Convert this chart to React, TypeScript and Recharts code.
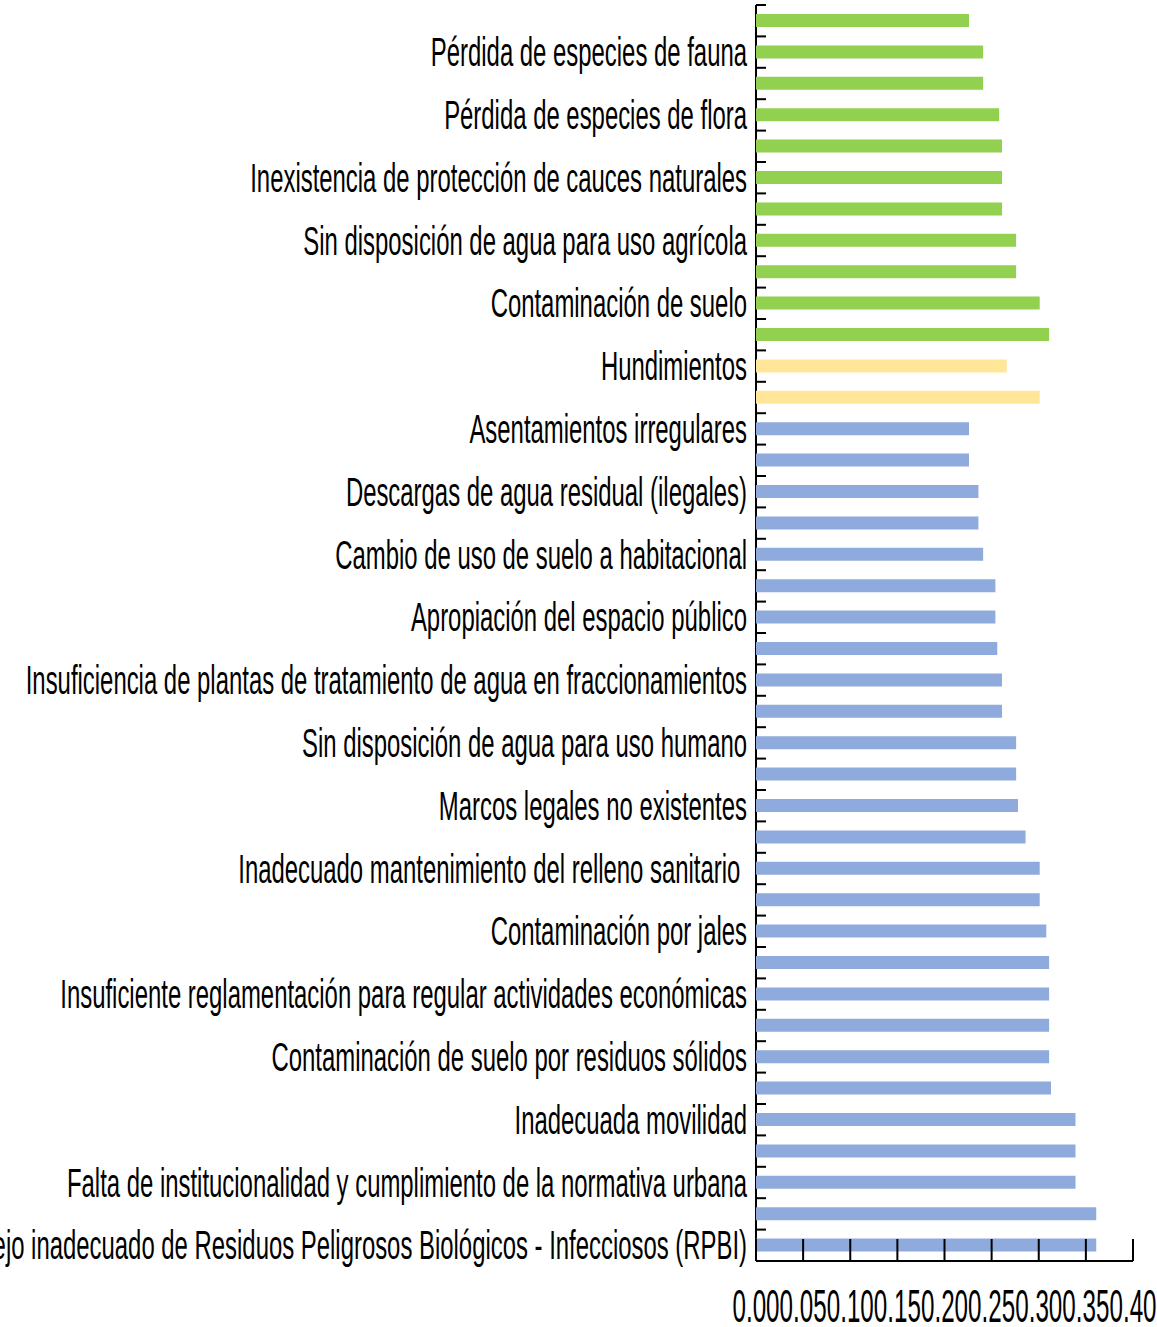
import React from "react";
import { BarChart, Bar, XAxis, YAxis, Cell } from "recharts";

// 40 bars, top to bottom; only every second one carries a visible label
const categories = [
  "", "Pérdida de especies de fauna",
  "", "Pérdida de especies de flora",
  "", "Inexistencia de protección de cauces naturales",
  "", "Sin disposición de agua para uso agrícola",
  "", "Contaminación de suelo",
  "", "Hundimientos",
  "", "Asentamientos irregulares",
  "", "Descargas de agua residual (ilegales)",
  "", "Cambio de uso de suelo a habitacional",
  "", "Apropiación del espacio público",
  "", "Insuficiencia de plantas de tratamiento de agua en fraccionamientos",
  "", "Sin disposición de agua para uso humano",
  "", "Marcos legales no existentes",
  "", "Inadecuado mantenimiento del relleno sanitario ",
  "", "Contaminación por jales",
  "", "Insuficiente reglamentación para regular actividades económicas",
  "", "Contaminación de suelo por residuos sólidos",
  "", "Inadecuada movilidad",
  "", "Falta de institucionalidad y cumplimiento de la normativa urbana",
  "", "Manejo inadecuado de Residuos Peligrosos Biológicos - Infecciosos (RPBI)",
];

const values = [
  0.226, 0.241, 0.241, 0.258, 0.261, 0.261, 0.261, 0.276, 0.276, 0.301,
  0.311, 0.266, 0.301, 0.226, 0.226, 0.236, 0.236, 0.241, 0.254, 0.254,
  0.256, 0.261, 0.261, 0.276, 0.276, 0.278, 0.286, 0.301, 0.301, 0.308,
  0.311, 0.311, 0.311, 0.311, 0.313, 0.339, 0.339, 0.339, 0.361, 0.361,
];

// 0 = ambiental (green), 1 = riesgo (yellow), 2 = urbano (blue)
const groups = [
  0, 0, 0, 0, 0, 0, 0, 0, 0, 0,
  0, 1, 1, 2, 2, 2, 2, 2, 2, 2,
  2, 2, 2, 2, 2, 2, 2, 2, 2, 2,
  2, 2, 2, 2, 2, 2, 2, 2, 2, 2,
];

const xTicks = [0, 0.05, 0.1, 0.15, 0.2, 0.25, 0.3, 0.35, 0.4];

const GROUP_COLORS = ["#92D050", "#FFE699", "#8FAADC"];
const FONT = '"Liberation Sans", Arial, sans-serif';

const data = categories.map((name, i) => ({
  key: `c${i}`,
  name,
  value: values[i],
  group: groups[i],
}));

const labelByKey: Record<string, string> = {};
data.forEach((d) => {
  labelByKey[d.key] = d.name;
});

const YTick = (props: any) => {
  const { x, y, payload } = props;
  const label = labelByKey[payload.value] || "";
  const half = payload.offset ?? 15.7;
  return (
    <g>
      <line x1={x} x2={x + 10} y1={y - half} y2={y - half} stroke="#000" strokeWidth={2} />
      {label && (
        <text
          transform={`translate(${x - 9},${y + 14}) scale(0.59,1)`}
          textAnchor="end"
          fontSize={40.5}
          fontFamily={FONT}
          fill="#000"
          style={{ whiteSpace: "pre" }}
        >
          {label}
        </text>
      )}
    </g>
  );
};

const XTick = (props: any) => {
  const { x, y, payload } = props;
  return (
    <g>
      <line x1={x} x2={x} y1={y} y2={y - 22} stroke="#000" strokeWidth={2} />
      <text
        transform={`translate(${x},${y + 61}) scale(0.52,1)`}
        textAnchor="middle"
        fontSize={46.5}
        fontFamily={FONT}
        fill="#000"
      >
        {Number(payload.value).toFixed(2)}
      </text>
    </g>
  );
};

export default function App() {
  return (
    <div style={{ position: "absolute", left: 0, top: 0, background: "#fff" }}>
      <BarChart
        width={1157}
        height={1327}
        data={data}
        layout="vertical"
        margin={{ top: 5, right: 24, bottom: 0, left: 0 }}
      >
        <XAxis
          type="number"
          domain={[0, 0.4]}
          ticks={xTicks}
          interval={0}
          height={66}
          tickLine={false}
          tickSize={0}
          tickMargin={0}
          axisLine={{ stroke: "#000", strokeWidth: 2 }}
          tick={<XTick />}
        />
        <YAxis
          type="category"
          dataKey="key"
          width={756}
          interval={0}
          tickLine={false}
          tickSize={0}
          tickMargin={0}
          axisLine={{ stroke: "#000", strokeWidth: 2 }}
          tick={<YTick />}
        />
        <Bar dataKey="value" barSize={13} isAnimationActive={false} zIndex={700}>
          {data.map((d) => (
            <Cell key={d.key} fill={GROUP_COLORS[d.group]} />
          ))}
        </Bar>
      </BarChart>
    </div>
  );
}
